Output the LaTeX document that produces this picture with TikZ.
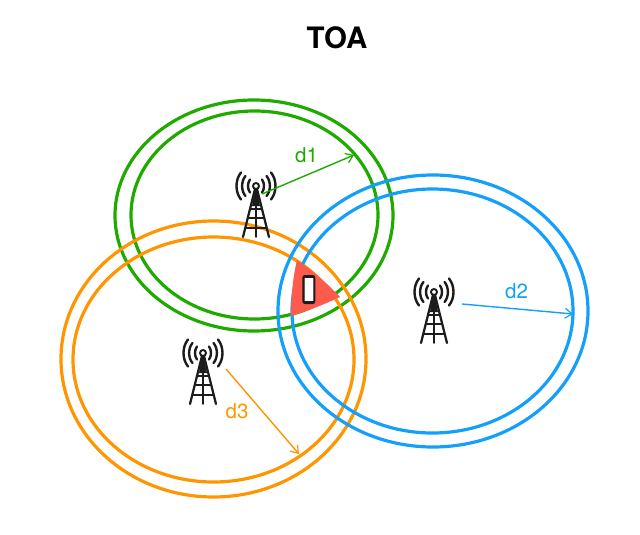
\documentclass[tikz,border=0pt]{standalone}
\usepackage{fontspec}
\setmainfont{TeX Gyre Heros}
\usetikzlibrary{arrows.meta}
\definecolor{gr}{HTML}{1FAA00}
\definecolor{bl}{HTML}{14A0FA}
\definecolor{og}{HTML}{FF9500}
\definecolor{rd}{HTML}{FF5B4D}
\definecolor{bk}{HTML}{1C1C1C}
\tikzset{
  ring/.style={line width=3.2pt},
  dist/.style={line width=1.4pt,-{Straight Barb[length=7pt,width=10pt,line width=1.2pt]}},
  lab/.style={font=\fontsize{20.5}{22}\selectfont,inner sep=0pt},
  mast/.pic={
    \begin{scope}[bk,line cap=round]
      \draw[line width=1.9pt,fill=white] (0,0) circle (3);
      \foreach \s in {-1,1}{
        \begin{scope}[xscale=\s]
          \draw[line width=2.4pt] (6,-6.5) .. controls (8.7,-3) and (8.7,3) .. (6,6.5);
          \draw[line width=2.4pt] (10.5,-10) .. controls (15,-5) and (15,5) .. (10.5,10);
          \draw[line width=2.4pt] (15,-13.5) .. controls (21,-6) and (21,6) .. (15,13.5);
          \draw[line width=2.2pt] (1,3) -- (13,51);
        \end{scope}
      }
      \fill (-0.8,3) -- (0.8,3) -- (4,20) -- (-4,20) -- cycle;
      \draw[line width=1.7pt] (0,14) -- (0,51);
      \draw[line width=1.9pt] (-5.5,23) -- (5.5,23);
      \draw[line width=1.9pt] (-7.5,32) -- (7.5,32);
      \draw[line width=1.9pt] (-10,42) -- (10,42);
    \end{scope}
  }
}
\begin{document}
\begin{tikzpicture}[x=1pt,y=-1pt]
\useasboundingbox (0,0) rectangle (640,535);
\node[font=\fontsize{29.5}{32}\selectfont\bfseries,inner sep=0pt] (title) at (337,38) {TOA};
% rings
\draw[ring,gr] (254,215.5) ellipse [x radius=139,y radius=115.5];
\draw[ring,gr] (254.5,215) ellipse [x radius=123.5,y radius=104];
\draw[ring,og] (213.5,359) ellipse [x radius=152.5,y radius=138];
\draw[ring,og] (213.5,359.5) ellipse [x radius=140.5,y radius=122.5];
\draw[ring,bl] (433,311) ellipse [x radius=155,y radius=136];
\draw[ring,bl] (432.5,311) ellipse [x radius=140.5,y radius=122];
% overlap region
\fill[rd] (297,260) .. controls (313,271) and (328,284) .. (340,297)
  .. controls (325,304) and (308,311) .. (291,316)
  .. controls (291,296) and (293,277) .. (297,260) -- cycle;
% phone
\fill[bk,rounded corners=2.5pt] (302.3,275) rectangle (315.3,304);
\fill[gray!75!black] (303.6,278) rectangle (314,301);
\fill[white] (304.7,278) rectangle (313.2,301);
% towers
\pic at (256,186) {mast};
\pic at (434,292) {mast};
\pic at (203,353) {mast};
% end points
\coordinate (a1) at (262,194); \coordinate (b1) at (354,155);
\coordinate (a2) at (462,304); \coordinate (b2) at (573,314);
\coordinate (a3) at (226,369); \coordinate (b3) at (299,454);
\draw[dist,gr] (a1) -- (b1);
\draw[dist,bl] (a2) -- (b2);
\draw[dist,og] (a3) -- (b3);
\node[lab,text=gr] (d1) at (306.5,155) {d1};
\node[lab,text=bl] (d2) at (516.5,291) {d2};
\node[lab,text=og] (d3) at (237,411) {d3};
\end{tikzpicture}
\end{document}
